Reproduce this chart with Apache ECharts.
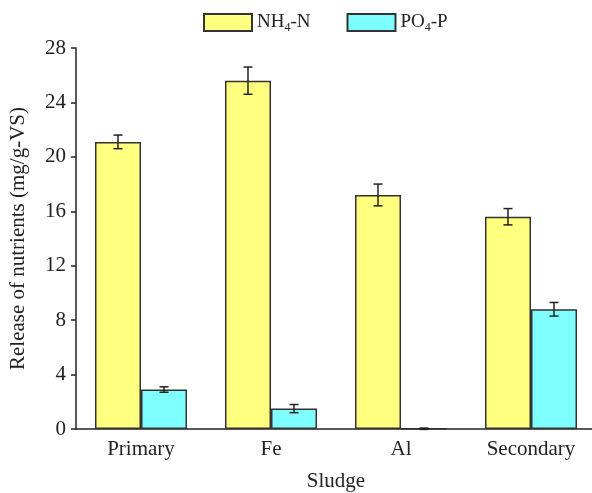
<!DOCTYPE html>
<html><head><meta charset="utf-8">
<script src="https://cdn.jsdelivr.net/npm/echarts@6/dist/echarts.min.js"></script>
<style>html,body{margin:0;padding:0;background:#fff}#c{width:592px;height:493px}</style>
</head><body><div id="c"></div>
<script>
const categories = ['Primary', 'Fe', 'Al', 'Secondary'];
const nh4Values = [21.1, 25.6, 17.2, 15.6];
const nh4Errors = [0.5, 1.0, 0.8, 0.6];
const po4Values = [2.9, 1.5, 0.02, 8.8];
const po4Errors = [0.2, 0.3, 0.05, 0.5];
const yTicks = [0, 4, 8, 12, 16, 20, 24, 28];

const FONT = '"Liberation Serif", "Times New Roman", serif';
const BAR_W = 0.354;

function errSeries(values, errors, side) {
  return {
    type: 'custom',
    z: 10,
    silent: true,
    data: values.map((v, i) => [i, v, errors[i]]),
    renderItem: function (params, api) {
      const i = api.value(0), v = api.value(1), e = api.value(2);
      const band = api.size([1, 0])[0];
      const off = side * band * BAR_W / 2;
      const hi = api.coord([i, v + e]);
      const lo = api.coord([i, v - e]);
      const x = hi[0] + off;
      const cap = 4.5;
      const style = { stroke: '#222', lineWidth: 1.5 };
      return {
        type: 'group',
        children: [
          { type: 'line', shape: { x1: x, y1: hi[1], x2: x, y2: lo[1] }, style },
          { type: 'line', shape: { x1: x - cap, y1: hi[1], x2: x + cap, y2: hi[1] }, style },
          { type: 'line', shape: { x1: x - cap, y1: lo[1], x2: x + cap, y2: lo[1] }, style }
        ]
      };
    }
  };
}

const chart = echarts.init(document.getElementById('c'));
chart.setOption({
  animation: false,
  textStyle: { fontFamily: FONT },
  legend: {
    top: 8,
    left: 198,
    icon: 'rect',
    itemWidth: 48,
    itemHeight: 17,
    itemGap: 36,
    data: ['NH4-N', 'PO4-P'],
    formatter: function (name) {
      return name === 'NH4-N' ? 'NH{s|4}-N' : 'PO{s|4}-P';
    },
    textStyle: {
      fontFamily: FONT, fontSize: 19, color: '#222',
      rich: { s: { fontFamily: FONT, fontSize: 12, verticalAlign: 'bottom', padding: [10, 0, 0, 0], color: '#222' } }
    }
  },
  grid: { left: 76, top: 48, width: 520, height: 381, outerBoundsMode: 'none', containLabel: false },
  xAxis: {
    type: 'category',
    data: categories,
    name: 'Sludge',
    nameLocation: 'middle',
    nameGap: 42,
    nameTextStyle: { fontFamily: FONT, fontSize: 21, color: '#222' },
    axisLine: { lineStyle: { color: '#222', width: 1.5 } },
    axisTick: { inside: true, length: 5, lineStyle: { color: '#222', width: 1.5 } },
    axisLabel: { fontFamily: FONT, fontSize: 21, color: '#222', margin: 10 }
  },
  yAxis: {
    type: 'value',
    min: 0, max: 28, interval: 4,
    name: 'Release of nutrients (mg/g-VS)',
    nameLocation: 'middle',
    nameGap: 47,
    nameTextStyle: { fontFamily: FONT, fontSize: 21, color: '#222' },
    axisLine: { show: true, lineStyle: { color: '#222', width: 1.5 } },
    axisTick: { show: true, length: 5, lineStyle: { color: '#222', width: 1.5 } },
    splitLine: { show: false },
    axisLabel: {
      fontFamily: FONT, fontSize: 21, color: '#222', margin: 10,
      formatter: v => yTicks.includes(v) ? String(v) : ''
    }
  },
  series: [
    {
      name: 'NH4-N', type: 'bar', data: nh4Values,
      barWidth: (BAR_W * 100) + '%', barGap: '0%',
      itemStyle: { color: '#FFFF80', borderColor: '#333', borderWidth: 1.5 }
    },
    {
      name: 'PO4-P', type: 'bar', data: po4Values,
      barWidth: (BAR_W * 100) + '%', barGap: '0%',
      itemStyle: { color: '#80FFFF', borderColor: '#333', borderWidth: 1.5 }
    },
    errSeries(nh4Values, nh4Errors, -1),
    errSeries(po4Values, po4Errors, 1)
  ]
});
</script></body></html>
